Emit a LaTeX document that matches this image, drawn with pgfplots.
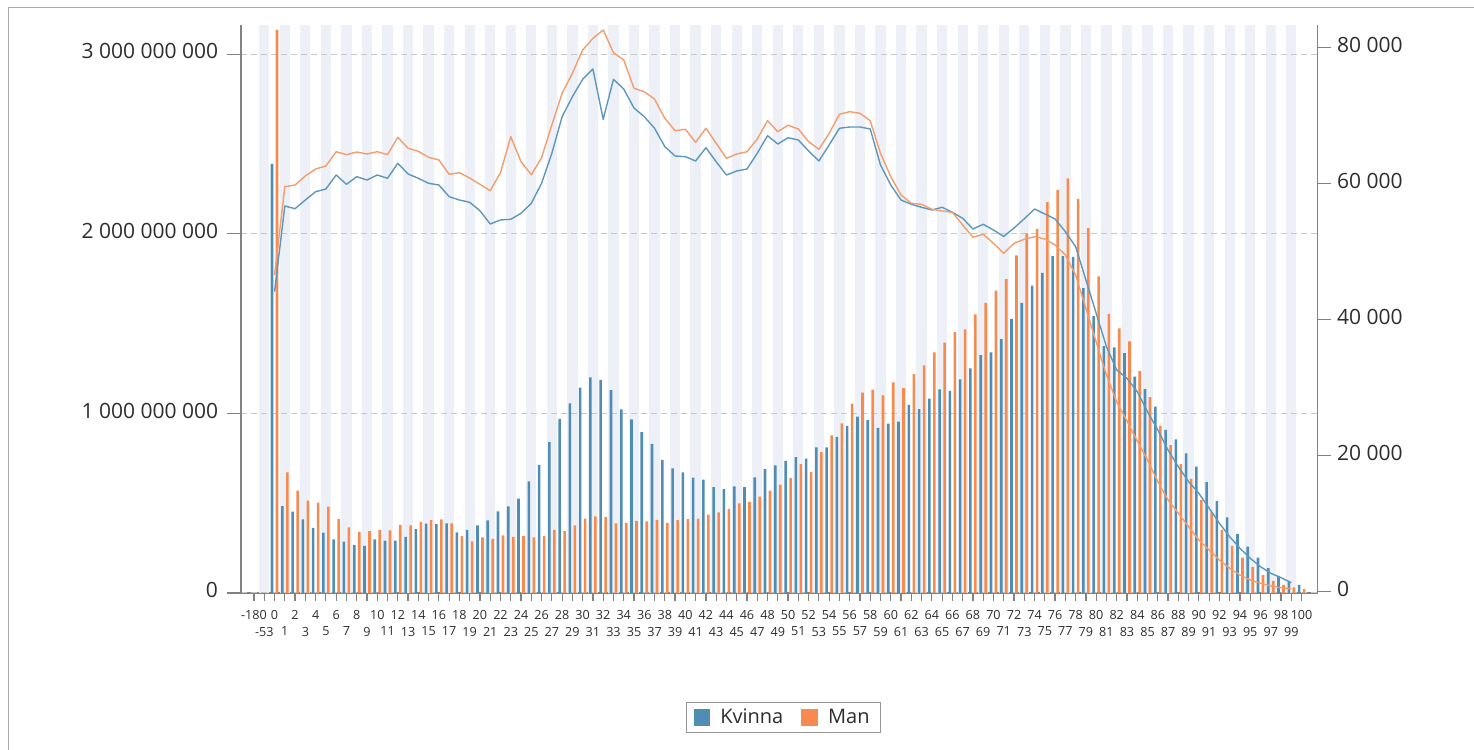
\documentclass[border=0pt]{standalone}
\usepackage{pgfplots}
\pgfplotsset{compat=1.18}
\usepackage{pgfplotstable}
\usepackage{fontspec}
\setmainfont{Open Sans}
\definecolor{kbar}{RGB}{79,141,181}
\definecolor{mbar}{RGB}{247,139,79}
\definecolor{kline}{RGB}{94,151,188}
\definecolor{mline}{RGB}{243,157,109}
\definecolor{stripe}{RGB}{237,241,247}
\definecolor{gridc}{RGB}{200,200,200}
\definecolor{axc}{RGB}{130,130,130}
\definecolor{txt}{RGB}{45,45,45}
\definecolor{legc}{RGB}{150,150,150}
\definecolor{framec}{RGB}{170,170,170}

% bars: i = position, cat = age category
\pgfplotstableread{
i cat K M
0 -180 0 0
1 -53 0 0
2 0 2.389e9 3.135e9
3 1 0.484e9 0.672e9
4 2 0.453e9 0.570e9
5 3 0.410e9 0.514e9
6 4 0.362e9 0.503e9
7 5 0.336e9 0.481e9
8 6 0.299e9 0.412e9
9 7 0.286e9 0.366e9
10 8 0.267e9 0.341e9
11 9 0.263e9 0.344e9
12 10 0.299e9 0.352e9
13 11 0.291e9 0.349e9
14 12 0.291e9 0.379e9
15 13 0.313e9 0.377e9
16 14 0.356e9 0.394e9
17 15 0.386e9 0.406e9
18 16 0.384e9 0.410e9
19 17 0.388e9 0.388e9
20 18 0.338e9 0.317e9
21 19 0.352e9 0.288e9
22 20 0.377e9 0.310e9
23 21 0.405e9 0.302e9
24 22 0.455e9 0.321e9
25 23 0.483e9 0.312e9
26 24 0.525e9 0.317e9
27 25 0.622e9 0.310e9
28 26 0.714e9 0.316e9
29 27 0.842e9 0.351e9
30 28 0.970e9 0.344e9
31 29 1.056e9 0.377e9
32 30 1.143e9 0.414e9
33 31 1.201e9 0.427e9
34 32 1.186e9 0.423e9
35 33 1.129e9 0.388e9
36 34 1.023e9 0.390e9
37 35 0.967e9 0.401e9
38 36 0.896e9 0.399e9
39 37 0.830e9 0.406e9
40 38 0.741e9 0.390e9
41 39 0.694e9 0.406e9
42 40 0.672e9 0.412e9
43 41 0.642e9 0.414e9
44 42 0.631e9 0.436e9
45 43 0.589e9 0.449e9
46 44 0.579e9 0.469e9
47 45 0.594e9 0.499e9
48 46 0.590e9 0.507e9
49 47 0.644e9 0.536e9
50 48 0.690e9 0.570e9
51 49 0.711e9 0.603e9
52 50 0.735e9 0.639e9
53 51 0.756e9 0.717e9
54 52 0.748e9 0.675e9
55 53 0.811e9 0.785e9
56 54 0.811e9 0.878e9
57 55 0.869e9 0.945e9
58 56 0.930e9 1.054e9
59 57 0.982e9 1.115e9
60 58 0.963e9 1.132e9
61 59 0.920e9 1.101e9
62 60 0.943e9 1.173e9
63 61 0.954e9 1.141e9
64 62 1.047e9 1.219e9
65 63 1.024e9 1.268e9
66 64 1.082e9 1.340e9
67 65 1.134e9 1.394e9
68 66 1.126e9 1.452e9
69 67 1.190e9 1.468e9
70 68 1.251e9 1.552e9
71 69 1.324e9 1.615e9
72 70 1.340e9 1.683e9
73 71 1.413e9 1.747e9
74 72 1.526e9 1.880e9
75 73 1.616e9 2.003e9
76 74 1.711e9 2.028e9
77 75 1.782e9 2.177e9
78 76 1.875e9 2.244e9
79 77 1.875e9 2.309e9
80 78 1.871e9 2.194e9
81 79 1.698e9 2.031e9
82 80 1.542e9 1.763e9
83 81 1.375e9 1.553e9
84 82 1.367e9 1.474e9
85 83 1.336e9 1.401e9
86 84 1.205e9 1.236e9
87 85 1.135e9 1.091e9
88 86 1.038e9 0.930e9
89 87 0.908e9 0.824e9
90 88 0.856e9 0.718e9
91 89 0.778e9 0.635e9
92 90 0.703e9 0.518e9
93 91 0.618e9 0.449e9
94 92 0.512e9 0.351e9
95 93 0.421e9 0.262e9
96 94 0.329e9 0.197e9
97 95 0.258e9 0.146e9
98 96 0.197e9 0.100e9
99 97 0.138e9 0.067e9
100 98 0.095e9 0.045e9
101 99 0.067e9 0.032e9
102 100 0.045e9 0.021e9
}\bars

% lines (right axis)
\pgfplotstableread{
i cat K M
2 0 44060 46515
3 1 56660 59500
4 2 56265 59750
5 3 57545 61074
6 4 58765 62104
7 5 59162 62545
8 6 61221 64647
9 7 59853 64206
10 8 60971 64603
11 9 60486 64309
12 10 61221 64647
13 11 60736 64206
14 12 62942 66765
15 13 61368 65148
16 14 60736 64706
17 15 60000 63824
18 16 59750 63427
19 17 58030 61324
20 18 57545 61559
21 19 57206 60780
22 20 55971 59853
23 21 54015 58912
24 22 54603 61559
25 23 54706 66853
26 24 55589 63177
27 25 57059 61265
28 26 60000 63765
29 27 64412 68574
30 28 69795 73236
31 29 72736 76177
32 30 75295 79603
33 31 76809 81324
34 32 69412 82545
35 33 75295 79206
36 34 73868 78133
37 35 71074 73971
38 36 69795 73471
39 37 68089 72398
40 38 65383 69559
41 39 64015 67736
42 40 63912 67942
43 41 63280 66030
44 42 65236 68089
45 43 63177 65883
46 44 61221 63677
47 45 61809 64309
48 46 62104 64647
49 47 64412 66515
50 48 67000 69206
51 49 65780 67589
52 50 66706 68530
53 51 66368 67986
54 52 64750 66118
55 53 63280 65000
56 54 65633 67353
57 55 68089 70148
58 56 68280 70530
59 57 68280 70295
60 58 67986 69206
61 59 62692 64412
62 60 59750 60971
63 61 57545 58280
64 62 56912 57059
65 63 56471 56912
66 64 56074 56177
67 65 56471 55927
68 66 55736 55736
69 67 54853 53868
70 68 53280 52059
71 69 53971 52500
72 70 53132 51177
73 71 52177 49706
74 72 53427 51177
75 73 54780 51765
76 74 56221 52148
77 75 55486 51809
78 76 54750 50927
79 77 52883 49456
80 78 50677 46515
81 79 45780 41618
82 80 40883 36662
83 81 35971 31809
84 82 32544 27839
85 83 31324 25044
86 84 29353 22103
87 85 26412 19309
88 86 23721 16118
89 87 20780 13427
90 88 18324 11471
91 89 16118 9500
92 90 14412 7544
93 91 12206 6074
94 92 10000 4603
95 93 8029 3382
96 94 6324 2397
97 95 4853 1662
98 96 3618 1176
99 97 2647 779
100 98 2000 529
101 99 1265 382
}\lines

\pgfplotsset{
  common/.style={
    at={(120.5pt,78.5pt)}, anchor=south west,
    scale only axis, width=538.25pt, height=284pt,
    xmin=-1.266, xmax=103.55,
    tick align=outside,
    axis line style={axc, line width=0.6pt, -},
    every tick/.style={axc, line width=0.6pt},
    clip=false,
  }
}

\begin{document}
\begin{tikzpicture}
\path[use as bounding box] (0pt,0pt) rectangle (737pt,375pt);
\draw[framec, line width=0.5pt] (4pt,0pt) -- (4pt,371pt) -- (737pt,371pt);

% axis B: stripes + category axis
\begin{axis}[common,
  ymin=0, ymax=1,
  axis y line=none, axis x line*=bottom,
  major tick length=4pt,
  xtick={0,2,...,102},
  xticklabels={-180,0,2,4,6,8,10,12,14,16,18,20,22,24,26,28,30,32,34,36,38,40,42,44,46,48,50,52,54,56,58,60,62,64,66,68,70,72,74,76,78,80,82,84,86,88,90,92,94,96,98,100},
  extra x ticks={1,3,...,101},
  extra x tick labels={-53,1,3,5,7,9,11,13,15,17,19,21,23,25,27,29,31,33,35,37,39,41,43,45,47,49,51,53,55,57,59,61,63,65,67,69,71,73,75,77,79,81,83,85,87,89,91,93,95,97,99},
  extra x tick style={tick label style={yshift=-8.5pt}},
  xticklabel style={font=\fontsize{6.3}{7.5}\selectfont, text=txt, anchor=north, inner sep=0pt, yshift=-4.3pt},
]
\pgfplotsinvokeforeach{1,3,...,101}{
  \fill[stripe] (axis cs:#1-0.5,0) rectangle (axis cs:#1+0.5,1);
}
\end{axis}

% axis A: bars, left axis
\begin{axis}[common,
  ymin=0, ymax=3.1626e9,
  axis x line=none, axis y line*=left,
  major tick length=7pt,
  scaled y ticks=false,
  ytick={0,1e9,2e9,3e9},
  yticklabels={0,1 000 000 000,2 000 000 000,3 000 000 000},
  yticklabel style={font=\fontsize{10.5}{12}\selectfont, text=txt, anchor=east, inner sep=0pt, xshift=-4.3pt, yshift=1.4pt},
  ymajorgrids,
  grid style={gridc, dash pattern=on 3pt off 2pt, line width=0.5pt},
  legend style={at={(0.504,-0.2192)}, anchor=center, draw=legc, line width=0.5pt,
    fill=white, font=\fontsize{10}{12}\selectfont, text=txt, legend columns=2,
    inner xsep=3.5pt, inner ysep=1pt,
    /tikz/every even column/.append style={column sep=7pt}},
]
\addplot[ybar, bar width=1.3pt, bar shift=-1.25pt, fill=kbar, draw=none,
  legend image code/.code={\fill[kbar] (0pt,-4.2pt) rectangle (8.4pt,4.2pt);}]
  table[x=i, y=K] {\bars};
\addlegendentry{\hspace{3pt}Kvinna}
\addplot[ybar, bar width=1.3pt, bar shift=1.25pt, fill=mbar, draw=none,
  legend image code/.code={\fill[mbar] (0pt,-4.2pt) rectangle (8.4pt,4.2pt);}]
  table[x=i, y=M] {\bars};
\addlegendentry{\hspace{3pt}Man\hspace{5pt}}
\end{axis}

% axis C: lines, right axis
\begin{axis}[common,
  ymin=-250, ymax=83280,
  axis x line=none, axis y line*=right,
  major tick length=6.5pt,
  scaled y ticks=false,
  ytick={0,20000,40000,60000,80000},
  yticklabels={0,20 000,40 000,60 000,80 000},
  yticklabel style={font=\fontsize{10.5}{12}\selectfont, text=txt, anchor=west, inner sep=0pt, xshift=3.1pt, yshift=1pt},
]
\addplot[kline, line width=0.7pt, no marks, line join=round] table[x=i, y=K] {\lines};
\addplot[mline, line width=0.7pt, no marks, line join=round] table[x=i, y=M] {\lines};
\end{axis}
\end{tikzpicture}
\end{document}
